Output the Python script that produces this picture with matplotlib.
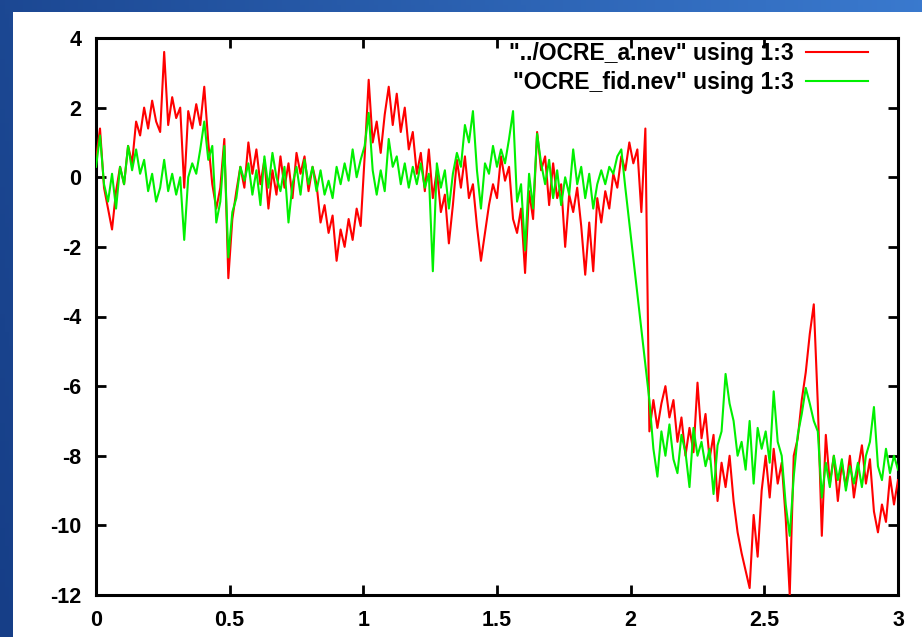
import numpy as np
import matplotlib
matplotlib.use("Agg")
import matplotlib.pyplot as plt

# ---------------- data ----------------
x_step = 0.015
x_vals = np.round(np.arange(0, 201) * x_step, 4)

ocre_a = [
    0.5, 1.4, -0.3, -0.9, -1.5, -0.4, 0.3, -0.2, 0.9, 0.4,
    1.6, 1.2, 2.0, 1.4, 2.2, 1.6, 1.3, 3.6, 1.5, 2.3,
    1.7, 2.0, -0.3, 1.9, 1.4, 2.1, 1.5, 2.6, 1.0, -0.2,
    -0.9, -0.3, 1.1, -2.9, -1.2, -0.4, 0.3, -0.3, 1.0, 0.1,
    0.8, -0.2, 0.5, -0.9, 0.2, -0.5, 0.6, -0.3, 0.4, -0.6,
    0.7, 0.1, 0.6, -0.4, 0.3, -0.2, -1.3, -0.8, -1.6, -1.1,
    -2.4, -1.5, -2.0, -1.2, -1.8, -0.9, -1.4, 0.6, 2.8, 1.0,
    1.6, 0.7, 1.8, 2.6, 1.5, 2.4, 1.3, 2.0, 0.8, 1.3,
    0.1, 0.7, -0.4, 0.8, -0.6, 0.2, -1.0, -0.5, -1.9, -0.8,
    0.5, -0.3, 0.6, -0.6, -0.2, -1.4, -2.4, -1.6, -0.8, -0.2,
    -0.6, 0.6, -0.1, 0.3, -1.2, -1.6, -0.9, -2.75, -0.4, -1.2,
    1.3, 0.2, 0.6, -0.8, 0.4, -0.6, -0.2, -2.0, -0.5, -1.0,
    -0.3, -1.4, -2.8, -1.3, -2.7, -0.6, -1.3, -0.4, -0.9, 0.1,
    -0.3, 0.6, 0.2, 1.0, 0.4, 0.8, -1.0, 1.4, -7.3, -6.4,
    -7.2, -6.5, -6.0, -6.9, -6.4, -7.6, -6.9, -8.0, -7.2, -7.9,
    -5.9, -7.5, -6.8, -8.1, -7.4, -9.3, -8.2, -8.9, -8.0, -9.3,
    -10.2, -10.8, -11.3, -11.8, -9.7, -10.9, -9.0, -8.0, -9.2, -7.8,
    -8.8, -8.2, -9.8, -12.0, -8.0, -7.5, -6.4, -5.6, -4.5, -3.65,
    -6.5, -10.3, -7.4, -8.8, -8.0, -9.3, -8.2, -8.9, -8.0, -9.2,
    -8.4, -7.7, -8.8, -8.1, -9.6, -10.2, -9.4, -9.9, -8.6, -9.4,
    -8.7,
]

# None = no sample recorded (gnuplot joins the neighbours with a straight line)
ocre_fid = [
    0.3, 1.2, -0.2, -0.7, 0.1, -0.9, 0.3, -0.2, 0.9, 0.2,
    0.8, 0.1, 0.5, -0.4, 0.1, -0.7, -0.3, 0.5, -0.4, 0.1,
    -0.5, 0.0, -1.8, 0.0, 0.4, 0.1, 0.8, 1.6, 0.5, 0.9,
    -1.3, -0.7, 0.9, -2.3, -1.0, -0.6, 0.3, -0.1, 0.4, -0.5,
    0.2, -0.8, 0.6, -0.3, 0.7, 0.0, -0.4, 0.3, -1.3, -0.2,
    0.3, -0.5, 0.5, -0.2, 0.3, -0.4, 0.2, -0.5, -0.1, -0.6,
    0.3, -0.2, 0.4, -0.1, 0.8, 0.0, 0.5, 0.9, 1.85, 0.2,
    -0.5, 0.2, -0.4, 1.1, 0.3, 0.6, -0.2, 0.4, -0.3, 0.3,
    -0.2, 0.4, -0.3, 0.1, -2.7, 0.4, -0.3, 0.2, -0.9, 0.1,
    0.7, 0.3, 1.5, 1.0, 1.9, 0.2, -0.9, 0.4, 0.1, 0.9,
    0.3, 0.8, 0.4, 1.1, 1.9, -0.7, -0.2, -2.1, 0.1, -0.9,
    1.25, 0.4, -0.2, 0.5, -0.6, 0.2, -0.8, 0.0, -0.5, 0.8,
    -0.2, 0.3, -0.6, 0.1, -0.9, -0.2, 0.2, -0.2, 0.3, 0.1,
    0.6, 0.8, -0.3, None, None, None, None, None, -6.4, -7.8,
    -8.6, -7.3, -8.0, -7.1, -8.1, -8.5, -7.4, -7.9, -8.9, -7.2,
    -8.0, -7.6, -8.3, -7.8, -9.1, -7.7, -7.3, -5.65, -6.5, -7.0,
    -8.0, -7.6, -8.4, -7.0, -8.8, -7.2, -7.8, -7.3, -8.2, -6.15,
    -7.6, -8.0, -9.4, -10.3, -8.6, -7.4, -6.8, -6.05, -6.5, -7.0,
    -7.3, -9.2, -8.2, -8.9, -8.0, -8.7, -8.1, -9.0, -8.3, -8.8,
    -8.2, -8.9, -8.0, -7.6, -6.6, -8.3, -8.7, -7.8, -8.5, -8.0,
    -8.4,
]

labels = ['"../OCRE_a.nev" using 1:3', '"OCRE_fid.nev" using 1:3']
x_ticks = [0, 0.5, 1, 1.5, 2, 2.5, 3]
x_ticklabels = ["0", "0.5", "1", "1.5", "2", "2.5", "3"]
y_ticks = [4, 2, 0, -2, -4, -6, -8, -10, -12]

# ---------------- figure ----------------
plt.rcParams['font.family'] = ['Liberation Sans', 'DejaVu Sans']
plt.rcParams['font.weight'] = 'bold'

W, H = 922, 637
fig = plt.figure(figsize=(W / 100, H / 100), dpi=100)

# slide background: blue gradient
bg = fig.add_axes([0, 0, 1, 1], zorder=-10)
gx = np.linspace(0, 1, 200)[None, :]
gy = np.linspace(0, 1, 140)[:, None]
c0 = np.array([22, 62, 135]) / 255.0
c1 = np.array([62, 128, 214]) / 255.0
t = np.clip(0.75 * gx + 0.15 * (1 - gy), 0, 1)
img = c0[None, None, :] * (1 - t[..., None]) + c1[None, None, :] * t[..., None]
bg.imshow(img, aspect='auto', extent=[0, 1, 0, 1], origin='upper')
# white panel
bg.add_patch(plt.Rectangle((13 / W, 0), 1, 1 - 12 / H, color='white', lw=0))
bg.set_xlim(0, 1)
bg.set_ylim(0, 1)
bg.axis('off')

ax = fig.add_axes([96 / W, 1 - 595 / H, (898 - 96) / W, (595 - 38) / H])
ax.set_facecolor('white')

xa = np.asarray(x_vals)
ya = np.asarray(ocre_a, dtype=float)
ax.plot(xa, ya, color='#ff0000', lw=1.5, label=labels[0], zorder=3)

fid = np.array([np.nan if v is None else v for v in ocre_fid], dtype=float)
ok = ~np.isnan(fid)
ax.plot(xa[ok], fid[ok], color='#00f000', lw=1.5, label=labels[1], zorder=4)

ax.set_xlim(0, 3)
ax.set_ylim(-12, 4)
ax.set_xticks(x_ticks)
ax.set_xticklabels(x_ticklabels)
ax.set_yticks(y_ticks)
ax.set_yticklabels([str(v) for v in y_ticks])
ax.tick_params(direction='in', length=7, width=2, top=True, right=True,
               labelsize=15.5, colors='black')
ax.tick_params(axis='x', pad=11)
ax.tick_params(axis='y', pad=10.5)
for sp in ax.spines.values():
    sp.set_linewidth(2.2)
    sp.set_color('black')

leg = ax.legend(loc='upper right', bbox_to_anchor=(0.9626, 0.9935),
                frameon=False, markerfirst=False,
                fontsize=16.5, handlelength=2.7, handletextpad=0.55,
                labelspacing=0.28, borderaxespad=0, borderpad=0)
for t_ in leg.get_texts():
    t_.set_fontweight('bold')

fig.savefig('out.png', dpi=100)
